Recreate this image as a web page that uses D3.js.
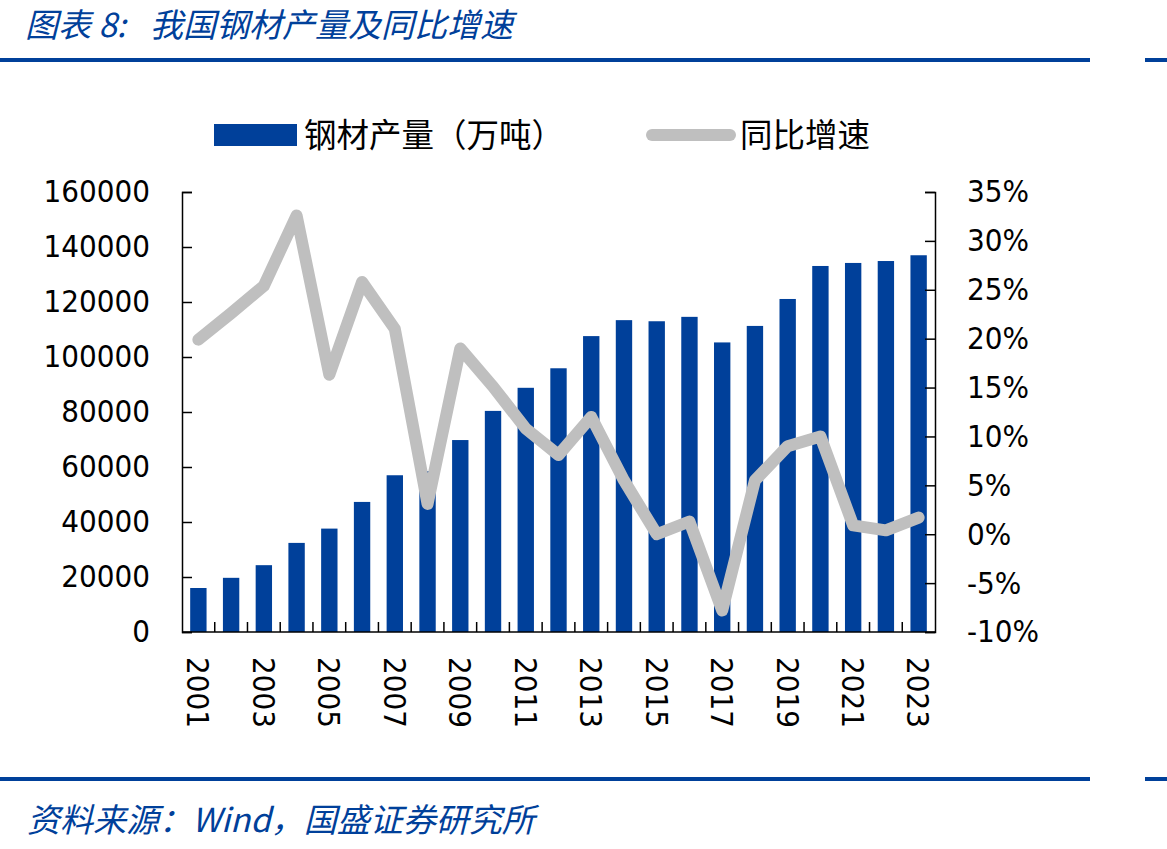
<!DOCTYPE html>
<html>
<head>
<meta charset="utf-8">
<script src="https://cdn.jsdelivr.net/npm/d3@7"></script>
<style>
	body { margin: 0; background: #fff; }
	.num { font-family: "DejaVu Sans Condensed", "DejaVu Sans", sans-serif; font-stretch: condensed; font-size: 31px; fill: #000; }
	.cjk { font-family: "Noto Sans CJK SC", sans-serif; }
</style>
</head>
<body>
<div id="chart"></div>
<script>
var years = ["2001","2002","2003","2004","2005","2006","2007","2008","2009","2010","2011","2012",
	"2013","2014","2015","2016","2017","2018","2019","2020","2021","2022","2023"];
var output = [16000, 19700, 24300, 32400, 37600, 47300, 57000, 58500, 69800, 80400, 88800, 95900,
	107600, 113400, 113000, 114600, 105300, 111300, 121100, 133100, 134200, 134900, 137000];
var growth = [19.9, 22.6, 25.4, 32.6, 16.3, 25.8, 21.0, 3.1, 19.0, 15.1, 10.8, 8.1,
	12.0, 5.5, 0.0, 1.3, -7.8, 5.5, 9.0, 10.0, 0.9, 0.4, 1.7];
var leftTicks = [0, 20000, 40000, 60000, 80000, 100000, 120000, 140000, 160000];
var rightTicks = [-10, -5, 0, 5, 10, 15, 20, 25, 30, 35];

var width = 1167,
	height = 849;

var plot = {left: 182, right: 935, top: 192, bottom: 632};
var blue = "#00409a",
	grey = "#bfbfbf";

var svg = d3.select("#chart")
	.append("svg")
		.attr("width", width)
		.attr("height", height);

// header / footer
var title = svg.append("text")
	.attr("class", "cjk")
	.attr("y", 37)
	.attr("font-size", 33)
	.attr("font-style", "italic")
	.attr("fill", blue);
title.append("tspan").attr("x", 25).text("图表 8:");
title.append("tspan").attr("x", 150).text("我国钢材产量及同比增速");

[60, 779].forEach(function(y) {
	svg.append("rect").attr("x", 0).attr("y", y - 2).attr("width", 1090).attr("height", 4).attr("fill", blue);
	svg.append("rect").attr("x", 1145).attr("y", y - 2).attr("width", 22).attr("height", 4).attr("fill", blue);
});

svg.append("text")
	.attr("class", "cjk")
	.attr("x", 27)
	.attr("y", 832)
	.attr("font-size", 33)
	.attr("font-style", "italic")
	.attr("fill", blue)
	.text("资料来源：Wind，国盛证券研究所");

// scales
var x = d3.scaleBand()
	.domain(years)
	.range([plot.left, plot.right])
	.paddingInner(0.5)
	.paddingOuter(0.25);

var band = d3.scaleBand()
	.domain(years)
	.range([plot.left, plot.right]);

var y = d3.scaleLinear()
	.domain([0, 160000])
	.range([plot.bottom, plot.top]);

var y2 = d3.scaleLinear()
	.domain([-10, 35])
	.range([plot.bottom, plot.top]);

// bars
svg.append("g")
	.selectAll("rect")
	.data(output)
	.enter()
	.append("rect")
		.attr("x", function(d, i) { return x(years[i]); })
		.attr("y", function(d) { return y(d); })
		.attr("width", x.bandwidth())
		.attr("height", function(d) { return y(0) - y(d); })
		.attr("fill", blue);

// line
var line = d3.line()
	.x(function(d, i) { return band(years[i]) + band.bandwidth()/2; })
	.y(function(d) { return y2(d); });

svg.append("path")
	.datum(growth)
	.attr("d", line)
	.attr("fill", "none")
	.attr("stroke", grey)
	.attr("stroke-width", 12)
	.attr("stroke-linejoin", "round")
	.attr("stroke-linecap", "round");

// axes
var leftAxis = d3.axisLeft(y)
	.tickValues(leftTicks)
	.tickSize(-10)
	.tickPadding(32)
	.tickFormat(d3.format("d"));

var gl = svg.append("g")
	.attr("transform", "translate(" + plot.left + ",0)")
	.call(leftAxis);

var rightAxis = d3.axisRight(y2)
	.tickValues(rightTicks)
	.tickSize(-10)
	.tickPadding(32)
	.tickFormat(function(d) { return d + "%"; });

var gr = svg.append("g")
	.attr("transform", "translate(" + plot.right + ",0)")
	.call(rightAxis);

[gl, gr].forEach(function(g) {
	g.select(".domain").attr("stroke", "#000").attr("stroke-width", 1.5);
	g.selectAll(".tick line").attr("stroke", "#000").attr("stroke-width", 1.5);
	g.selectAll(".tick text")
		.attr("class", "num")
		.attr("font-family", null)
		.attr("font-size", null);
});

// x axis
svg.append("line")
	.attr("x1", plot.left)
	.attr("x2", plot.right)
	.attr("y1", plot.bottom)
	.attr("y2", plot.bottom)
	.attr("stroke", "#000")
	.attr("stroke-width", 1.5);

svg.append("g")
	.selectAll("line")
	.data(years.slice(1))
	.enter()
	.append("line")
		.attr("x1", function(d) { return band(d); })
		.attr("x2", function(d) { return band(d); })
		.attr("y1", plot.bottom)
		.attr("y2", plot.bottom - 10)
		.attr("stroke", "#000")
		.attr("stroke-width", 1.5);

svg.append("g")
	.selectAll("text")
	.data(years.filter(function(d, i) { return i % 2 === 0; }))
	.enter()
	.append("text")
		.attr("class", "num")
		.attr("transform", function(d) {
			return "translate(" + (band(d) + band.bandwidth()/2) + "," + 657 + ") rotate(90)";
		})
		.attr("dy", "0.36em")
		.text(function(d) { return d; });

// legend
svg.append("rect")
	.attr("x", 214)
	.attr("y", 124)
	.attr("width", 83)
	.attr("height", 22)
	.attr("fill", blue);

svg.append("text")
	.attr("class", "cjk")
	.attr("x", 304)
	.attr("y", 147)
	.attr("font-size", 32.5)
	.text("钢材产量（万吨）");

svg.append("line")
	.attr("x1", 652)
	.attr("x2", 730)
	.attr("y1", 135)
	.attr("y2", 135)
	.attr("stroke", grey)
	.attr("stroke-width", 12)
	.attr("stroke-linecap", "round");

svg.append("text")
	.attr("class", "cjk")
	.attr("x", 740)
	.attr("y", 147)
	.attr("font-size", 32.5)
	.text("同比增速");
</script>
</body>
</html>
